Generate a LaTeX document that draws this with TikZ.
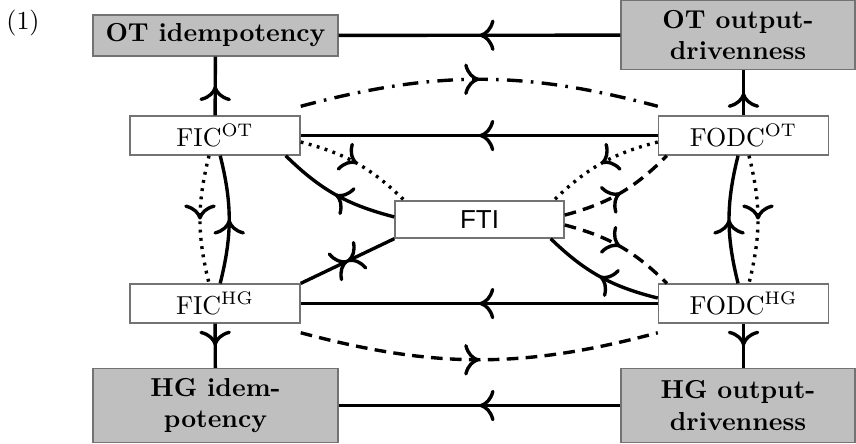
\documentclass[tikz,border=0pt]{standalone}
\usepackage{fontspec}
\newfontfamily\ftifont{Liberation Sans}
\usetikzlibrary{arrows.meta,decorations.markings}
\begin{document}
\begin{tikzpicture}[x=0.385pt,y=-0.385pt,
  box/.style={draw=black!55,line width=0.5pt,inner sep=0pt,align=center},
  gbox/.style={box,fill=gray!50,font=\bfseries},
  wbox/.style={box,fill=white,minimum width=65.5pt,minimum height=15pt},
  conn/.style={line width=1.3pt},
  dotline/.style={dash pattern=on 1.1pt off 2.1pt},
  dashline/.style={dash pattern=on 4.5pt off 2.8pt},
  dashdotline/.style={dash pattern=on 6pt off 3.2pt on 1pt off 3.2pt},
  mid/.style={postaction={decorate},decoration={markings,
     mark=at position 0.5 with {\arrow{Computer Modern Rightarrow[scale=1.3]}}}},
  bimid/.style={postaction={decorate},decoration={markings,
     mark=at position 0.5 with {\arrow{Computer Modern Rightarrow[scale=1.3]}\arrowreversed{Computer Modern Rightarrow[scale=1.3]}}}}
]
\useasboundingbox (0,0) rectangle (856,443);
\node[inner sep=0pt] (num) at (23,23) {(1)};
\node[gbox,minimum width=94.3pt,minimum height=15.8pt] (otidem) at (215.5,35.5) {OT idempotency};
\node[gbox,minimum width=90.1pt,minimum height=26.6pt] (otod) at (738,35) {OT output-\\drivenness};
\node[wbox] (ficot) at (215,135.5) {FIC$^{\mathrm{OT}}$};
\node[wbox] (fodcot) at (743.5,135.5) {FODC$^{\mathrm{OT}}$};
\node[wbox,minimum width=65.1pt,minimum height=14.25pt,font=\ftifont] (fti) at (479.5,219.5) {FTI};
\node[wbox] (fichg) at (215,303.5) {FIC$^{\mathrm{HG}}$};
\node[wbox] (fodchg) at (743.5,303.5) {FODC$^{\mathrm{HG}}$};
\node[gbox,minimum width=94.3pt,minimum height=28.5pt] (hgidem) at (215.5,405.5) {HG idem-\\potency};
\node[gbox,minimum width=90.1pt,minimum height=28.5pt] (hgod) at (738,405.5) {HG output-\\drivenness};

% straight connectors
\draw[conn,mid] (otod) -- (otidem);
\draw[conn,mid] (ficot) -- (otidem);
\draw[conn,mid] (fodcot.north) -- (fodcot.north |- otod.south);
\draw[conn,mid] (fodcot) -- (ficot);
\draw[conn,mid] (fodchg) -- (fichg);
\draw[conn,mid] (fichg) -- (hgidem);
\draw[conn,mid] (fodchg.south) -- (fodchg.south |- hgod.north);
\draw[conn,mid] (hgod) -- (hgidem);

% top and bottom arcs
\draw[conn,dashdotline,mid] ([yshift=3.5pt]ficot.north east) to[bend left=15] ([yshift=3.5pt]fodcot.north west);
\draw[conn,dashline,mid] ([yshift=-3.5pt]fichg.south east) to[bend right=15] ([yshift=-3.5pt]fodchg.south west);

% left verticals
\draw[conn,dotline,mid] ([xshift=-2.3pt]ficot.south) to[bend right=14] ([xshift=-2.3pt]fichg.north);
\draw[conn,mid] ([xshift=2pt]fichg.north) to[bend right=14] ([xshift=2pt]ficot.south);
% right verticals
\draw[conn,mid] ([xshift=-2.1pt]fodchg.north) to[bend left=14] ([xshift=-2.1pt]fodcot.south);
\draw[conn,dotline,mid] ([xshift=2.1pt]fodcot.south) to[bend left=14] ([xshift=2.1pt]fodchg.north);

% FTI connectors
\draw[conn,mid] ([yshift=1pt]fti.west) to[bend left=15] ([xshift=-5.8pt]ficot.south east);
\draw[conn,dotline,mid] ([yshift=-2.5pt]ficot.east) to[bend left=15] ([xshift=3.85pt]fti.north west);
\draw[conn,bimid] (fichg.north east) -- (fti.south west);
\draw[conn,dotline,mid] ([yshift=-2.5pt]fodcot.west) to[bend right=15] ([xshift=-4.2pt]fti.north east);
\draw[conn,dashline,mid] ([yshift=1.7pt]fti.east) to[bend right=15] ([xshift=3.5pt]fodcot.south west);
\draw[conn,dashline,mid] ([yshift=-2.1pt]fti.east) to[bend left=15] ([xshift=3.5pt]fodchg.north west);
\draw[conn,mid] ([yshift=2.1pt]fodchg.west) to[bend left=15] ([xshift=-5.4pt]fti.south east);
\end{tikzpicture}
\end{document}
